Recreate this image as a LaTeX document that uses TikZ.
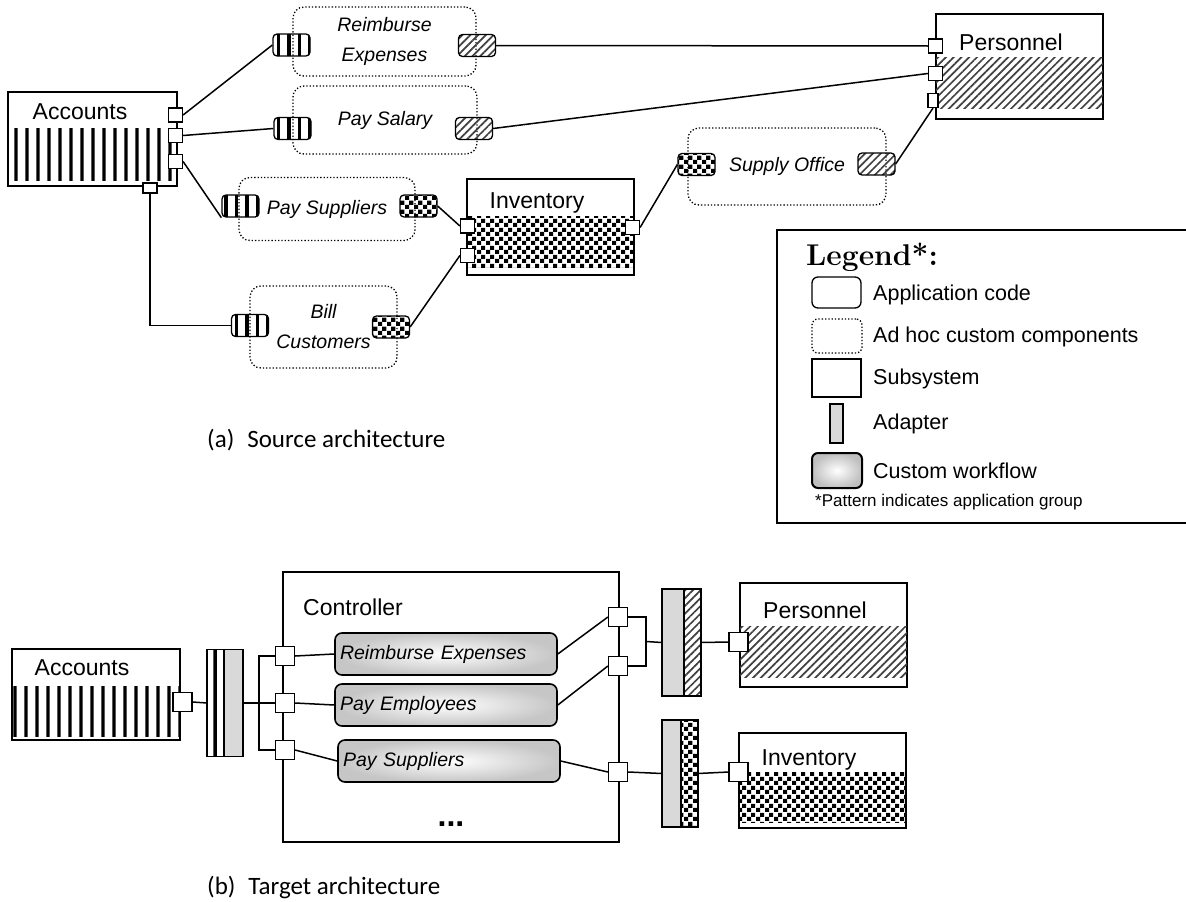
\documentclass[tikz,border=0pt]{standalone}
\usepackage{fontspec}
\newfontfamily\arial{Liberation Sans}
\newfontfamily\calib{Carlito}
\usetikzlibrary{positioning,calc,patterns,patterns.meta}

% upright bars for the accounts group
\pgfdeclarepattern{
	name=bars,
	type=uncolored,
	bottom left={\pgfpointorigin},
	top right={\pgfpoint{10.5pt}{120pt}},
	tile size={\pgfpoint{10.5pt}{120pt}},
	code={
		\pgfpathrectangle{\pgfpoint{3.5pt}{0pt}}{\pgfpoint{3.5pt}{120pt}}
		\pgfusepath{fill}
	}
}
% checker fill for the inventory group
\pgfdeclarepattern{
	name=checks,
	type=uncolored,
	bottom left={\pgfpointorigin},
	top right={\pgfpoint{9pt}{9pt}},
	tile size={\pgfpoint{9pt}{9pt}},
	code={
		\pgfpathrectangle{\pgfpointorigin}{\pgfpoint{4.5pt}{4.5pt}}
		\pgfpathrectangle{\pgfpoint{4.5pt}{4.5pt}}{\pgfpoint{4.5pt}{4.5pt}}
		\pgfusepath{fill}
	}
}

\begin{document}
\begin{tikzpicture}[x=1pt,y=-1pt,
		subsys/.style={draw,line width=1.8pt,inner sep=0pt},
		slab/.style={font=\arial\fontsize{23}{26}\selectfont,inner sep=0pt},
		port/.style={draw,fill=white,line width=1.2pt,minimum size=14pt,inner sep=0pt},
		bigport/.style={port,minimum size=19pt},
		adhoc/.style={draw,dotted,line width=1.3pt,rounded corners=11pt,align=center,inner sep=0pt,
			font=\arial\itshape\fontsize{19.5}{30}\selectfont},
		tab/.style={draw,line width=1.3pt,rounded corners=4pt,minimum width=37pt,minimum height=22pt,inner sep=0pt},
		acct/.style={pattern=bars},
		pers/.style={pattern={Lines[angle=45,distance=5.5pt,line width=1.7pt]},pattern color=black!75},
		invt/.style={pattern=checks},
		wire/.style={line width=1.5pt},
		wflow/.style={draw,line width=1.6pt,rounded corners=7pt,inner color=white,outer color=gray!45,
			minimum height=42pt,text width=212pt,inner xsep=5pt,inner ysep=0pt,align=left,
			font=\arial\itshape\fontsize{19.5}{23}\selectfont},
		shim/.style={draw,line width=1.5pt,minimum height=107pt,inner sep=0pt,outer sep=0pt},
		legtxt/.style={anchor=west,inner sep=0pt,font=\arial\fontsize{21.5}{25}\selectfont}]
	\useasboundingbox (0,0) rectangle (1186,902);

	% source: subsystems
	\node[subsys,minimum width=169pt,minimum height=94pt] (acc) at (92.5,139) {};
	\path[acct] ($(acc.south west)+(2,-6)$) rectangle ($(acc.south east)+(-2,-58)$);
	\node[slab] (accLbl) at (80,112) {Accounts};
	\node[subsys,minimum width=167pt,minimum height=96pt] (inv) at (550.5,227) {};
	\path[invt] ($(inv.south west)+(1,-8)$) rectangle ($(inv.south east)+(-1,-59)$);
	\node[slab] (invLbl) at (537,203) {Inventory};
	\node[subsys,minimum width=167pt,minimum height=105pt] (per) at (1019.5,66.5) {};
	\path[pers] ($(per.south west)+(1,-11)$) rectangle ($(per.south east)+(-1,-62)$);
	\node[slab] (perLbl) at (1011,42) {Personnel};

	% source: ad hoc components
	\node[adhoc,minimum width=183pt,minimum height=69pt] (reimb) at (384.5,41.5) {Reimburse\\Expenses};
	\node[adhoc,minimum width=184pt,minimum height=68pt] (salary) at (385,120) {Pay Salary};
	\node[adhoc,minimum width=176pt,minimum height=63pt] (suppl) at (327,209) {Pay Suppliers};
	\node[adhoc,minimum width=147pt,minimum height=82pt] (bill) at (323.5,327) {Bill\\Customers};
	\node[adhoc,minimum width=198pt,minimum height=77pt] (office) at (787,166.5) {Supply Office};
	\node[tab,acct] (reimbL) at (291.5,45) {};
	\node[tab,pers] (reimbR) at (477,45.5) {};
	\node[tab,acct] (salaryL) at (292.5,128.5) {};
	\node[tab,pers] (salaryR) at (474,128.5) {};
	\node[tab,acct] (supplL) at (240.5,206) {};
	\node[tab,invt] (supplR) at (418.5,206) {};
	\node[tab,acct] (billL) at (250,325.5) {};
	\node[tab,invt] (billR) at (391,327) {};
	\node[tab,invt] (officeL) at (696.5,164.5) {};
	\node[tab,pers] (officeR) at (876.5,164) {};

	% source: ports
	\node[port] (accP1) at (175.5,115) {};
	\node[port] (accP2) at (175.5,135.5) {};
	\node[port] (accP3) at (175.5,161.5) {};
	\node[port,minimum height=10pt] (accP4) at (150,188) {};
	\node[port] (invP1) at (467.5,226) {};
	\node[port] (invP2) at (467.5,255.5) {};
	\node[port] (invP3) at (632.5,227.5) {};
	\node[port] (perP1) at (935.5,46) {};
	\node[port] (perP2) at (935.5,73.5) {};
	\node[port,minimum width=10pt] (perP3) at (933,100.5) {};

	% source: wiring
	\draw[wire] (accP1.east) -- (reimbL.west);
	\draw[wire] (accP2.east) -- (salaryL.west);
	\draw[wire] (accP3.east) -- (supplL.south west);
	\draw[wire] (accP4.south) |- (billL.west);
	\draw[wire] (reimbR.east) -- (perP1.west);
	\draw[wire] (salaryR.east) -- (perP2.west);
	\draw[wire] (supplR.east) -- (invP1.west);
	\draw[wire] (billR.east) -- (invP2.west);
	\draw[wire] (invP3.east) -- (officeL.west);
	\draw[wire] (officeR.east) -- (perP3.south);

	% legend
	\draw[line width=1.5pt] (777,230) rectangle (1190,523);
	\node[anchor=west,inner sep=0pt,font=\bfseries\fontsize{30}{32}\selectfont] (legHead) at (806,257) {Legend*:};
	\node[draw,line width=1.3pt,rounded corners=6pt,minimum width=49pt,minimum height=31pt] (legApp) at (836.5,292.5) {};
	\node[draw,dotted,line width=1.3pt,rounded corners=6pt,minimum width=50pt,minimum height=34pt] (legAdhoc) at (837,336) {};
	\node[draw,line width=1.5pt,minimum width=49pt,minimum height=38pt] (legSub) at (836.5,378) {};
	\node[draw,line width=1.3pt,fill=gray!30,minimum width=13pt,minimum height=39pt,inner sep=0pt] (legAd) at (836.5,423.5) {};
	\node[draw,line width=2pt,rounded corners=6pt,inner color=white,outer color=gray!50,minimum width=50pt,minimum height=35pt] (legWf) at (837,470.5) {};
	\node[legtxt] (legAppTxt) at (873,295) {Application code};
	\node[legtxt] (legAdhocTxt) at (873,337) {Ad hoc custom components};
	\node[legtxt] (legSubTxt) at (873,379) {Subsystem};
	\node[legtxt] (legAdTxt) at (873,424) {Adapter};
	\node[legtxt] (legWfTxt) at (873,471) {Custom workflow};
	\node[anchor=west,inner sep=0pt,font=\arial\fontsize{17}{20}\selectfont] (legNote) at (815,502) {*Pattern indicates application group};

	\node[anchor=west,inner sep=0pt,font=\calib\fontsize{25}{28}\selectfont] (capA) at (207,440) {(a)\hspace{13pt}Source architecture};

	% target: subsystems
	\node[subsys,minimum width=168pt,minimum height=91pt] (accB) at (96,694.5) {};
	\path[acct] ($(accB.south west)+(2,-4)$) rectangle ($(accB.south east)+(-2,-54)$);
	\node[slab] (accBLbl) at (82,668) {Accounts};
	\node[subsys,minimum width=167pt,minimum height=104pt] (perB) at (823.5,635) {};
	\path[pers] ($(perB.south west)+(1,-10)$) rectangle ($(perB.south east)+(-1,-61)$);
	\node[slab] (perBLbl) at (815,610) {Personnel};
	\node[subsys,minimum width=167pt,minimum height=95pt] (invB) at (822.5,780.5) {};
	\path[invt] ($(invB.south west)+(1,-6)$) rectangle ($(invB.south east)+(-1,-56)$);
	\node[slab] (invBLbl) at (809,760) {Inventory};

	% target: controller and workflows
	\node[subsys,line width=1.5pt,minimum width=336pt,minimum height=270pt] (ctrl) at (451,707) {};
	\node[slab,anchor=west] (ctrlLbl) at (303,607) {Controller};
	\node[wflow] (wfRe) at (446,654) {Reimburse Expenses};
	\node[wflow] (wfPe) at (446,705) {Pay Employees};
	\node[wflow] (wfSu) at (449,761) {Pay Suppliers};
	\node[inner sep=0pt,font=\arial\bfseries\fontsize{32}{34}\selectfont] (ctrlMore) at (451,824) {...};

	% target: adapters
	\node[shim,acct,minimum width=17pt] (accAdS) at (215.5,703) {};
	\node[shim,fill=gray!30,minimum width=19pt,right=0pt of accAdS] (accAdG) {};
	\node[shim,fill=gray!30,minimum width=22pt] (perAdG) at (673,642.5) {};
	\node[shim,pers,minimum width=17pt,right=0pt of perAdG] (perAdP) {};
	\node[shim,fill=gray!30,minimum width=19pt] (invAdG) at (671.5,773.5) {};
	\node[shim,invt,minimum width=17pt,right=0pt of invAdG] (invAdP) {};

	% target: ports
	\node[bigport] (accBP) at (182.5,702) {};
	\node[bigport] (ctlL1) at (285,656) {};
	\node[bigport] (ctlL2) at (285,703) {};
	\node[bigport] (ctlL3) at (285,750) {};
	\node[bigport] (ctlR1) at (618,617) {};
	\node[bigport] (ctlR2) at (618,666) {};
	\node[bigport] (ctlR3) at (618,772) {};
	\node[bigport] (perBP) at (738.5,642) {};
	\node[bigport] (invBP) at (738.5,772) {};

	% target: wiring
	\draw[wire] (accBP.east) -- (accAdS.west);
	\draw[wire] (accAdG.east) -- (ctlL2.west);
	\draw[wire] (ctlL1.west) -- ++(-16,0) |- (ctlL3.west);
	\draw[wire] (ctlL1.east) -- (wfRe.west);
	\draw[wire] (ctlL2.east) -- (wfPe.west);
	\draw[wire] (ctlL3.east) -- (wfSu.west);
	\draw[wire] (wfRe.east) -- (ctlR1.west);
	\draw[wire] (wfPe.east) -- (ctlR2.west);
	\draw[wire] (wfSu.east) -- (ctlR3.west);
	\draw[wire] (ctlR1.east) -- ++(18,0) |- (ctlR2.east);
	\draw[wire] ($(ctlR1.east)!0.5!(ctlR2.east)+(18,0)$) -- (perAdG.west);
	\draw[wire] (perAdP.east) -- (perBP.west);
	\draw[wire] (ctlR3.east) -- (invAdG.west);
	\draw[wire] (invAdP.east) -- (invBP.west);

	\node[anchor=west,inner sep=0pt,font=\calib\fontsize{25}{28}\selectfont] (capB) at (207,887) {(b)\hspace{13pt}Target architecture};
\end{tikzpicture}
\end{document}
